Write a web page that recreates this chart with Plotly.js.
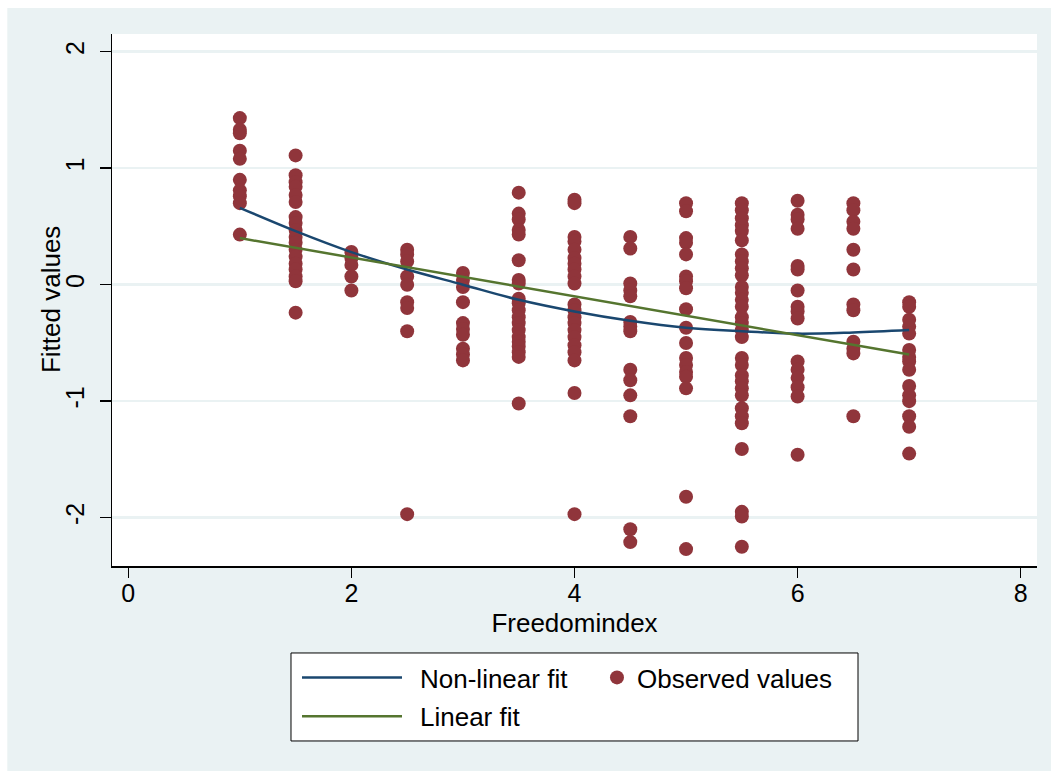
<!DOCTYPE html>
<html>
<head>
<meta charset="utf-8">
<script src="https://cdn.plot.ly/plotly-3.0.1.min.js"></script>
<style>
  html, body { margin: 0; padding: 0; background: #ffffff; }
  #chart { width: 1051px; height: 771px; }
</style>
</head>
<body>
<div id="chart"></div>
<script>
// ---- Data ----
const obsX = [
  1,1,1,1,1,1,1,1,1,1,
  1.5,1.5,1.5,1.5,1.5,1.5,1.5,1.5,1.5,1.5,1.5,1.5,1.5,1.5,1.5,1.5,1.5,1.5,
  2,2,2,2,2,
  2.5,2.5,2.5,2.5,2.5,2.5,2.5,2.5,2.5,
  3,3,3,3,3,3,3,3,3,3,
  3.5,3.5,3.5,3.5,3.5,3.5,3.5,3.5,3.5,3.5,3.5,3.5,3.5,3.5,3.5,3.5,3.5,3.5,3.5,3.5,
  4,4,4,4,4,4,4,4,4,4,4,4,4,4,4,4,4,4,4,4,4,
  4.5,4.5,4.5,4.5,4.5,4.5,4.5,4.5,4.5,4.5,4.5,4.5,4.5,4.5,
  5,5,5,5,5,5,5,5,5,5,5,5,5,5,5,5,5,5,
  5.5,5.5,5.5,5.5,5.5,5.5,5.5,5.5,5.5,5.5,5.5,5.5,5.5,5.5,5.5,5.5,5.5,5.5,5.5,5.5,5.5,5.5,5.5,5.5,5.5,5.5,5.5,5.5,5.5,5.5,5.5,
  6,6,6,6,6,6,6,6,6,6,6,6,6,6,6,6,
  6.5,6.5,6.5,6.5,6.5,6.5,6.5,6.5,6.5,6.5,6.5,6.5,
  7,7,7,7,7,7,7,7,7,7,7,7,7,7,7
];
const obsY = [
  1.43,1.33,1.30,1.15,1.08,0.90,0.81,0.76,0.70,0.43,
  1.11,0.94,0.88,0.84,0.77,0.71,0.58,0.53,0.47,0.41,0.36,0.30,0.24,0.18,0.13,0.07,0.03,-0.24,
  0.28,0.23,0.17,0.07,-0.05,
  0.30,0.26,0.20,0.07,0.00,-0.15,-0.20,-0.40,-1.97,
  0.10,0.04,-0.02,-0.15,-0.33,-0.38,-0.43,-0.55,-0.60,-0.65,
  0.79,0.61,0.56,0.47,0.43,0.21,0.04,0.01,-0.12,-0.16,-0.22,-0.28,-0.33,-0.39,-0.45,-0.49,-0.53,-0.58,-0.62,-1.02,
  0.73,0.70,0.41,0.37,0.30,0.23,0.18,0.13,0.07,0.01,-0.17,-0.22,-0.28,-0.33,-0.39,-0.45,-0.52,-0.58,-0.65,-0.93,-1.97,
  0.41,0.31,0.01,-0.05,-0.10,-0.32,-0.36,-0.40,-0.73,-0.82,-0.95,-1.13,-2.10,-2.21,
  0.70,0.63,0.40,0.36,0.26,0.07,0.03,-0.03,-0.21,-0.37,-0.50,-0.63,-0.69,-0.75,-0.79,-0.89,-1.82,-2.27,
  0.70,0.64,0.57,0.51,0.46,0.38,0.26,0.20,0.14,0.08,-0.02,-0.07,-0.13,-0.19,-0.28,-0.33,-0.39,-0.45,-0.63,-0.69,-0.78,-0.83,-0.89,-0.95,-1.06,-1.13,-1.19,-1.41,-1.95,-1.99,-2.25,
  0.72,0.60,0.56,0.48,0.16,0.13,-0.05,-0.19,-0.23,-0.29,-0.66,-0.73,-0.80,-0.88,-0.96,-1.46,
  0.70,0.64,0.54,0.48,0.30,0.13,-0.17,-0.22,-0.49,-0.55,-0.59,-1.13,
  -0.15,-0.19,-0.30,-0.36,-0.42,-0.56,-0.62,-0.66,-0.73,-0.87,-0.95,-1.00,-1.13,-1.22,-1.45
];
const nonLinX = [1, 1.5, 2, 2.5, 3, 3.5, 4, 4.5, 5, 5.5, 6, 6.5, 7];
const nonLinY = [0.66, 0.46, 0.28, 0.13, 0.00, -0.13, -0.23, -0.31, -0.37, -0.40, -0.42, -0.41, -0.39];
const linX = [1, 7];
const linY = [0.40, -0.60];

const xTickVals = [0, 2, 4, 6, 8];
const xTickText = ['0', '2', '4', '6', '8'];
const yTickVals = [2, 1, 0, -1, -2];
const yTickText = ['2', '1', '0', '-1', '-2'];

const seriesNames = ['Non-linear fit', 'Observed values', 'Linear fit'];
const xTitle = 'Freedomindex';
const yTitle = 'Fitted values';

// ---- Styling ----
const FONT = '"Liberation Sans", Arial, Helvetica, sans-serif';
const BG = '#EAF2F3';
const NAVY = '#1A476F';
const MAROON = '#90353B';
const GREEN = '#55752F';
const PAD = '\u2002';

const traceObs = {
  x: obsX, y: obsY, type: 'scatter', mode: 'markers',
  name: seriesNames[1], legend: 'legend2',
  marker: { color: MAROON, size: 14, line: { width: 0 } }
};
const traceNonLin = {
  x: nonLinX, y: nonLinY, type: 'scatter', mode: 'lines',
  name: PAD + seriesNames[0], legend: 'legend', legendgroup: 'g1', legendrank: 1,
  line: { color: NAVY, width: 2.5, shape: 'spline', smoothing: 1 }
};
const traceLin = {
  x: linX, y: linY, type: 'scatter', mode: 'lines',
  name: PAD + seriesNames[2], legend: 'legend', legendgroup: 'g2', legendrank: 2,
  line: { color: GREEN, width: 2.5 }
};

const layout = {
  width: 1051, height: 771,
  margin: { l: 112, r: 14, t: 34, b: 205, pad: 0 },
  paper_bgcolor: BG,
  plot_bgcolor: '#FFFFFF',
  font: { family: FONT, size: 26, color: '#000000' },
  showlegend: true,
  xaxis: {
    range: [-0.146, 8.146],
    tickvals: xTickVals, ticktext: xTickText,
    ticks: 'outside', ticklen: 10, tickwidth: 1.5, tickcolor: '#000000',
    ticklabelstandoff: -6,
    showline: true, linecolor: '#000000', linewidth: 1.5,
    showgrid: false, zeroline: false,
    tickfont: { family: FONT, size: 25, color: '#000000' },
    title: { text: xTitle, font: { family: FONT, size: 26, color: '#000000' }, standoff: 8 }
  },
  yaxis: {
    range: [-2.415, 2.152],
    tickvals: yTickVals, ticktext: yTickText,
    tickangle: -90,
    ticks: 'outside', ticklen: 11, tickwidth: 1.5, tickcolor: '#000000',
    ticklabelstandoff: 6,
    showline: true, linecolor: '#000000', linewidth: 1.5,
    showgrid: true, gridcolor: BG, gridwidth: 2.5,
    zeroline: false,
    tickfont: { family: FONT, size: 25, color: '#000000' }
  },
  annotations: [
    { text: yTitle, xref: 'paper', yref: 'paper', x: -0.0659, y: 0.5,
      xanchor: 'center', yanchor: 'middle', textangle: -90, showarrow: false,
      font: { family: FONT, size: 26, color: '#000000' } }
  ],
  legend: {
    orientation: 'v',
    x: 0.2, xanchor: 'left', y: -0.1654, yanchor: 'top',
    bgcolor: 'rgba(0,0,0,0)', borderwidth: 0,
    itemwidth: 100,
    tracegroupgap: 2,
    traceorder: 'grouped',
    font: { family: FONT, size: 26, color: '#000000' }
  },
  legend2: {
    orientation: 'v',
    x: 0.5243, xanchor: 'left', y: -0.1654, yanchor: 'top',
    bgcolor: 'rgba(0,0,0,0)', borderwidth: 0,
    itemwidth: 30,
    font: { family: FONT, size: 26, color: '#000000' }
  },
  shapes: [
    // white strips outside the graph region (cropped image edges)
    { type: 'rect', xref: 'paper', yref: 'paper', x0: -0.3, x1: 1.2, y0: 1.0489, y1: 1.3,
      fillcolor: '#FFFFFF', line: { width: 0 }, layer: 'below' },
    { type: 'rect', xref: 'paper', yref: 'paper', x0: -0.3, x1: -0.1132, y0: -0.5, y1: 1.3,
      fillcolor: '#FFFFFF', line: { width: 0 }, layer: 'below' },
    // legend box
    { type: 'rect', xref: 'paper', yref: 'paper', x0: 0.1935, x1: 0.8065, y0: -0.3289, y1: -0.1635,
      fillcolor: '#FFFFFF', line: { color: '#000000', width: 1 }, layer: 'below' }
  ]
};

Plotly.newPlot('chart', [traceObs, traceNonLin, traceLin], layout, { staticPlot: true, displayModeBar: false });
</script>
</body>
</html>
